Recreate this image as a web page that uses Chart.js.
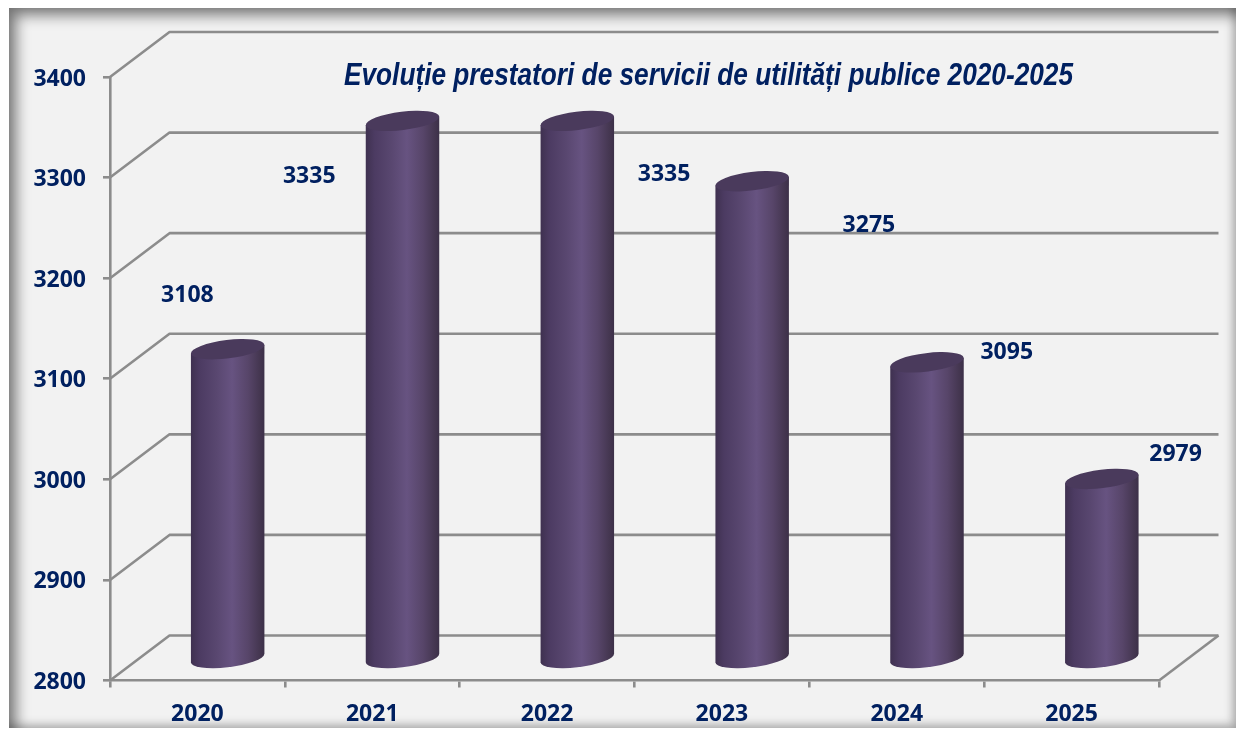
<!DOCTYPE html>
<html>
<head>
<meta charset="utf-8">
<script src="https://cdn.jsdelivr.net/npm/chart.js@4"></script>
<style>
  html, body { margin: 0; padding: 0; background: #fff; }
  #panel {
    position: absolute; left: 9px; top: 8px; width: 1227px; height: 720px;
    background: #f2f2f2;
    box-shadow: inset 7px 7px 14px rgba(0,0,0,.5), inset -4px -4px 8px rgba(0,0,0,.22);
  }
  #c { position: absolute; left: 0; top: 0; }
</style>
</head>
<body>
<div id="panel"></div>
<canvas id="c" width="1236" height="729"></canvas>
<script>
const titleText = 'Evoluție prestatori de servicii de utilități publice 2020-2025'
const years = ['2020', '2021', '2022', '2023', '2024', '2025']
const prestatori = [3108, 3335, 3335, 3275, 3095, 2979]
const yMin = 2800
const yMax = 3400
const yStep = 100

// where each value label sits, relative to the front of its bar
const labelShift = [[-10, -75], [-63, 34], [117, 32], [147, 23], [110, -31], [104, -46]]

const navy = '#002060'
const gridColor = '#8c8c8c'
const depthX = 59.5
const depthY = 45
const cylRx = 37
const cylRy = 9.2
const cylTilt = -7 * Math.PI / 180

// draws the fake 3D walls behind the bars
const wallsPlugin = {
  id: 'walls',
  beforeDatasetsDraw(chart) {
    const ctx = chart.ctx
    const a = chart.chartArea
    const y = chart.scales.y
    ctx.save()
    ctx.strokeStyle = gridColor
    ctx.lineWidth = 2.6
    ctx.lineJoin = 'round'
    for(let v = yMin; v <= yMax; v += yStep) {
      const py = y.getPixelForValue(v)
      ctx.beginPath()
      ctx.moveTo(a.left, py)
      ctx.lineTo(a.left + depthX, py - depthY)
      ctx.lineTo(a.right + depthX, py - depthY)
      ctx.stroke()
    }
    ctx.beginPath()
    ctx.moveTo(a.right, a.bottom)
    ctx.lineTo(a.right + depthX, a.bottom - depthY)
    ctx.stroke()
    ctx.restore()
  }
}

function cylinder(ctx, cx, topY, baseY) {
  // angles where the tilted ellipse reaches its left and right extreme
  const t = Math.atan(-(cylRy / cylRx) * Math.tan(cylTilt))
  const rightA = t
  const leftA = t + Math.PI
  const ex = cylRx * Math.cos(t) * Math.cos(cylTilt) - cylRy * Math.sin(t) * Math.sin(cylTilt)
  const ey = cylRx * Math.cos(t) * Math.sin(cylTilt) + cylRy * Math.sin(t) * Math.cos(cylTilt)

  const g = ctx.createLinearGradient(cx - ex, 0, cx + ex, 0)
  g.addColorStop(0, '#3f3150')
  g.addColorStop(0.12, '#4c3b62')
  g.addColorStop(0.35, '#594770')
  g.addColorStop(0.56, '#675381')
  g.addColorStop(0.78, '#574569')
  g.addColorStop(0.94, '#443650')
  g.addColorStop(1, '#3c3048')

  ctx.save()
  ctx.beginPath()
  ctx.ellipse(cx, baseY, cylRx, cylRy, cylTilt, rightA, leftA)
  ctx.lineTo(cx - ex, topY - ey)
  ctx.lineTo(cx + ex, topY + ey)
  ctx.closePath()
  ctx.fillStyle = g
  ctx.fill()

  ctx.beginPath()
  ctx.ellipse(cx, topY, cylRx, cylRy, cylTilt, 0, Math.PI * 2)
  ctx.fillStyle = '#4a3a5c'
  ctx.fill()
  ctx.restore()
}

// cylinders and value labels, positions come from the bar elements
const cylindersPlugin = {
  id: 'cylinders',
  afterDatasetsDraw(chart) {
    const ctx = chart.ctx
    const meta = chart.getDatasetMeta(0)
    const baseY = chart.scales.y.getPixelForValue(yMin) - depthY / 2
    meta.data.forEach((bar, i) => {
      cylinder(ctx, bar.x + depthX / 2 + 0.5, bar.y - depthY / 2 + 1, baseY)
    })
    ctx.save()
    ctx.fillStyle = navy
    ctx.font = 'bold 23px "Open Sans"'
    ctx.textAlign = 'center'
    ctx.textBaseline = 'middle'
    meta.data.forEach((bar, i) => {
      ctx.fillText(String(prestatori[i]), bar.x + labelShift[i][0], bar.y + labelShift[i][1])
    })
    ctx.restore()

    // title sits inside the plot, squeezed like the original
    ctx.save()
    ctx.fillStyle = navy
    ctx.font = 'italic bold 31px "Liberation Sans"'
    const w = ctx.measureText(titleText).width
    ctx.translate(708.5, 85)
    ctx.scale(729 / w, 1)
    ctx.textAlign = 'center'
    ctx.fillText(titleText, 0, 0)
    ctx.restore()
  }
}

new Chart(document.getElementById('c'), {
  type: 'bar',
  data: {
    labels: years,
    datasets: [{
      data: prestatori,
      backgroundColor: 'transparent',
      borderWidth: 0
    }]
  },
  options: {
    responsive: false,
    animation: false,
    layout: { padding: { top: 77, right: 77, left: 0, bottom: 0 } },
    plugins: { legend: { display: false }, tooltip: { enabled: false } },
    scales: {
      x: {
        afterFit(scale) { scale.height = 48.5 },
        grid: { drawOnChartArea: false, color: gridColor, tickLength: 7, lineWidth: 2.6 },
        border: { color: gridColor, width: 2.6 },
        ticks: { color: navy, font: { family: 'Open Sans', size: 23, weight: 'bold' }, padding: 13, maxRotation: 0 }
      },
      y: {
        min: yMin,
        max: yMax,
        afterFit(scale) { scale.width = 110 },
        grid: { drawOnChartArea: false, color: gridColor, tickLength: 7, lineWidth: 2.6 },
        border: { color: gridColor, width: 2.6 },
        ticks: {
          stepSize: yStep,
          color: navy,
          // empty first line + small lineHeight nudges the label 2px down
          font: { family: 'Open Sans', size: 23, weight: 'bold', lineHeight: '4px' },
          padding: 17,
          callback: v => ['', String(v)]
        }
      }
    }
  },
  plugins: [wallsPlugin, cylindersPlugin]
})
</script>
</body>
</html>
